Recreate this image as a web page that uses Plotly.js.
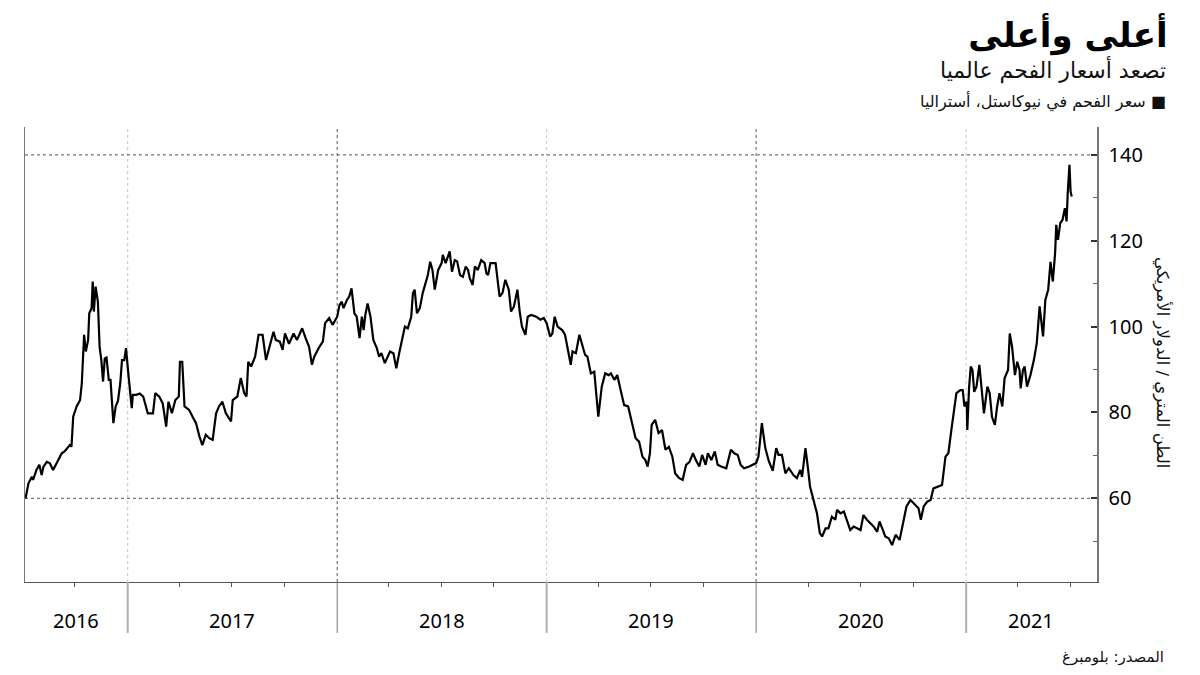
<!DOCTYPE html>
<html>
<head>
<meta charset="utf-8">
<script src="https://cdn.plot.ly/plotly-3.0.1.min.js"></script>
<style>
html,body{margin:0;padding:0;background:#fff;}
#chart{width:1200px;height:675px;}
</style>
</head>
<body>
<div id="chart"></div>
<script>
// ---- Data ----
const dates = [
"2016-07-07","2016-07-12","2016-07-18","2016-07-20","2016-07-26","2016-07-31","2016-08-04","2016-08-07","2016-08-13","2016-08-18",
"2016-08-24","2016-09-02","2016-09-08","2016-09-13","2016-09-22","2016-09-25","2016-09-28","2016-10-04","2016-10-10","2016-10-13",
"2016-10-17","2016-10-20","2016-10-24","2016-10-26","2016-10-30","2016-11-01","2016-11-03","2016-11-06","2016-11-10","2016-11-13",
"2016-11-16","2016-11-19","2016-11-22","2016-11-25","2016-11-29","2016-12-02","2016-12-07","2016-12-11","2016-12-15","2016-12-19",
"2016-12-22","2016-12-26","2016-12-29",
"2017-01-02","2017-01-08","2017-01-10","2017-01-16","2017-01-22","2017-01-28","2017-02-05","2017-02-14","2017-02-18","2017-02-25",
"2017-03-03","2017-03-09","2017-03-13","2017-03-19","2017-03-25","2017-03-31","2017-04-02","2017-04-06","2017-04-10","2017-04-18",
"2017-04-24","2017-04-30","2017-05-06","2017-05-11","2017-05-17","2017-05-23","2017-05-29","2017-06-04","2017-06-09","2017-06-15",
"2017-06-21","2017-06-30","2017-07-03","2017-07-11","2017-07-17","2017-07-23","2017-07-27","2017-07-30","2017-08-04","2017-08-08",
"2017-08-11","2017-08-17","2017-08-24","2017-08-30","2017-09-05","2017-09-12","2017-09-16","2017-09-23","2017-09-28","2017-10-02",
"2017-10-09","2017-10-17","2017-10-23","2017-11-01","2017-11-07","2017-11-13","2017-11-18","2017-11-22","2017-12-01","2017-12-07",
"2017-12-11","2017-12-18","2017-12-24",
"2018-01-01","2018-01-05","2018-01-09","2018-01-12","2018-01-18","2018-01-22","2018-01-26","2018-01-31","2018-02-04","2018-02-09",
"2018-02-13","2018-02-16","2018-02-19","2018-02-23","2018-02-28","2018-03-05","2018-03-11","2018-03-15","2018-03-19","2018-03-25",
"2018-04-03","2018-04-09","2018-04-14","2018-04-19","2018-04-29","2018-05-04","2018-05-10","2018-05-13","2018-05-16","2018-05-20",
"2018-05-25","2018-05-30","2018-06-05","2018-06-08","2018-06-12","2018-06-16","2018-06-20","2018-06-26","2018-07-02","2018-07-04",
"2018-07-09","2018-07-12","2018-07-16","2018-07-20","2018-07-25","2018-07-29","2018-08-03","2018-08-08","2018-08-13","2018-08-17",
"2018-08-20","2018-08-25","2018-08-29","2018-09-03","2018-09-09","2018-09-15","2018-09-18","2018-09-21","2018-09-25","2018-10-04",
"2018-10-11","2018-10-16","2018-10-21","2018-10-27","2018-10-31","2018-11-05","2018-11-11","2018-11-15","2018-11-19","2018-11-25",
"2018-11-29","2018-12-05","2018-12-14","2018-12-21","2018-12-27",
"2019-01-01","2019-01-07","2019-01-11","2019-01-15","2019-01-20","2019-01-28","2019-02-02","2019-02-06","2019-02-10","2019-02-12",
"2019-02-15","2019-02-21","2019-02-27","2019-03-05","2019-03-09","2019-03-13","2019-03-19","2019-03-25","2019-04-01","2019-04-07",
"2019-04-13","2019-04-19","2019-04-23","2019-04-29","2019-05-04","2019-05-10","2019-05-16","2019-05-23","2019-05-28","2019-06-01",
"2019-06-05","2019-06-11","2019-06-17","2019-06-22","2019-06-26","2019-06-30","2019-07-03","2019-07-09","2019-07-15","2019-07-21",
"2019-07-27","2019-08-02","2019-08-08","2019-08-13","2019-08-20","2019-08-26","2019-09-01","2019-09-07","2019-09-13","2019-09-18",
"2019-09-24","2019-09-29","2019-10-05","2019-10-09","2019-10-15","2019-10-21","2019-10-26","2019-11-01","2019-11-10","2019-11-18",
"2019-11-24","2019-11-30","2019-12-05","2019-12-11","2019-12-20",
"2020-01-01","2020-01-05","2020-01-11","2020-01-17","2020-01-23","2020-01-30","2020-02-05","2020-02-09","2020-02-15","2020-02-21",
"2020-02-27","2020-03-06","2020-03-12","2020-03-18","2020-03-21","2020-03-27","2020-03-31","2020-04-04","2020-04-10","2020-04-16",
"2020-04-21","2020-04-25","2020-05-01","2020-05-06","2020-05-12","2020-05-18","2020-05-21","2020-05-27","2020-06-02","2020-06-07",
"2020-06-13","2020-06-19","2020-06-25","2020-07-01","2020-07-06","2020-07-12","2020-07-18","2020-07-24","2020-07-30","2020-08-03",
"2020-08-09","2020-08-13","2020-08-19","2020-08-25","2020-08-31","2020-09-07","2020-09-13","2020-09-19","2020-09-26","2020-10-04",
"2020-10-10","2020-10-14","2020-10-19","2020-10-25","2020-10-31","2020-11-05","2020-11-14","2020-11-20","2020-11-26","2020-12-01",
"2020-12-07","2020-12-15","2020-12-22","2020-12-26","2020-12-29",
"2021-01-02","2021-01-03","2021-01-06","2021-01-09","2021-01-12","2021-01-15","2021-01-19","2021-01-24","2021-01-28","2021-02-01",
"2021-02-07","2021-02-11","2021-02-15","2021-02-20","2021-02-24","2021-02-28","2021-03-05","2021-03-09","2021-03-15","2021-03-18",
"2021-03-22","2021-03-27","2021-03-31","2021-04-04","2021-04-06","2021-04-10","2021-04-13","2021-04-17","2021-04-23","2021-04-29",
"2021-05-04","2021-05-09","2021-05-15","2021-05-19","2021-05-24","2021-05-28","2021-06-01","2021-06-05","2021-06-07","2021-06-10",
"2021-06-14","2021-06-18","2021-06-22","2021-06-25","2021-06-27","2021-06-30","2021-07-02","2021-07-04"
];
const prices = [
60.0,63.5,65.0,64.3,66.6,67.8,65.4,67.3,68.5,68.2,
66.6,69.0,70.5,70.9,72.4,72.0,79.0,81.4,82.9,86.8,
98.1,94.2,96.9,103.1,104.3,110.5,103.5,109.3,105.8,95.3,
92.2,87.2,92.6,92.8,87.6,87.6,77.5,81.4,82.7,86.8,
92.2,92.2,95.0,
89.1,81.0,84.1,84.1,84.4,83.7,79.8,79.8,84.5,83.7,
82.1,76.7,82.5,79.8,82.9,83.7,91.8,91.8,81.4,80.6,
79.0,77.5,74.4,72.4,74.8,74.0,73.6,79.8,81.4,82.5,
79.8,77.9,82.9,83.7,88.0,84.5,83.7,91.8,90.7,91.8,
93.0,98.1,98.1,92.2,95.3,98.8,96.9,96.5,94.6,98.4,
96.0,98.4,96.9,99.6,97.3,95.3,91.1,93.0,95.3,96.5,
100.8,102.0,100.4,
102.3,105.0,105.8,104.3,106.2,107.0,108.9,103.1,102.3,97.3,
102.3,99.2,102.7,105.4,102.3,96.9,95.0,93.0,93.8,91.5,
94.2,93.8,90.3,93.8,100.0,99.6,102.3,107.8,108.6,103.1,
104.3,107.8,110.5,112.0,115.1,113.2,108.6,113.2,114.8,116.7,
114.8,115.9,117.5,112.8,115.5,115.2,112.0,111.6,114.0,113.2,
111.3,109.7,114.0,113.2,115.5,114.8,112.4,112.0,114.8,114.8,
107.0,107.8,110.9,108.6,103.5,104.7,108.6,103.5,100.0,98.1,
102.3,102.7,102.3,101.6,102.0,
100.8,97.7,98.4,102.3,100.0,99.2,98.1,95.3,93.0,91.1,
94.2,93.8,98.1,95.3,93.4,93.0,89.1,89.5,79.0,86.0,
89.1,88.7,89.1,87.6,88.7,85.2,81.7,81.4,78.3,75.9,
74.0,73.2,69.7,68.9,67.4,70.5,77.1,78.3,75.2,75.9,
71.3,72.0,69.7,65.8,64.7,64.3,67.8,68.5,70.5,68.9,
67.4,70.1,67.8,70.5,68.9,70.9,67.8,67.4,67.0,71.3,
70.5,70.1,67.8,67.0,67.4,
68.2,69.7,77.5,71.7,68.7,66.4,71.7,70.1,70.1,65.8,
67.0,65.4,64.7,66.6,65.0,71.7,67.4,62.7,59.6,56.5,
51.9,51.1,53.0,53.0,55.7,55.0,57.3,56.5,56.9,55.0,
52.6,53.4,53.0,52.6,56.1,55.0,54.2,53.4,52.2,54.6,
52.6,51.1,50.7,49.1,51.5,50.3,54.2,58.1,59.6,58.4,
57.7,55.0,58.1,59.2,59.6,62.3,62.7,63.1,69.7,70.5,
76.7,84.5,85.2,85.2,81.4,
82.5,75.9,85.6,90.7,89.9,84.8,86.0,91.1,84.5,79.8,
86.0,84.5,79.0,77.1,81.4,84.5,81.4,88.0,89.9,98.4,
95.3,88.7,91.8,89.9,85.6,89.9,90.7,86.0,88.7,92.2,
96.1,104.7,97.7,106.2,108.6,115.1,110.5,117.1,123.7,120.2,
124.1,124.9,127.6,124.5,131.1,137.7,131.4,130.3
];
const yearStarts = ["2017-01-01","2018-01-01","2019-01-01","2020-01-01","2021-01-01"];
const yearLabels = ["2016","2017","2018","2019","2020","2021"];
const yearLabelDates = ["2016-10-03","2017-07-02","2018-07-02","2019-07-02","2020-07-02","2021-04-24"];
const gridValues = [60, 140];
const xRange = ["2016-07-06","2021-08-17"];
const yRange = [40.5, 146.5];

const titleText = "أعلى وأعلى";
const subtitleText = "تصعد أسعار الفحم عالميا";
const legendText = "سعر الفحم في نيوكاستل، أستراليا";
const yTitleText = "الطن المتري / الدولار الأمريكي";
const sourceText = "المصدر: بلومبرغ";

// ---- Figure ----
const arFont = "DejaVu Sans, Noto Sans, sans-serif";
const numFont = "Noto Sans, Open Sans, sans-serif";

const shapes = [];
yearStarts.forEach((d, i) => {
  const dark = (i % 2 === 1);
  shapes.push({type:"line", xref:"x", yref:"paper", x0:d, x1:d, y0:0, y1:1,
    line:{color: dark ? "#555" : "#c4c4c4", width:1, dash:"dot"}, layer:"below"});
  shapes.push({type:"line", xref:"x", yref:"paper", x0:d, x1:d, y0:0, y1:-0.112,
    line:{color: dark ? "#777" : "#b0b0b0", width: dark ? 1 : 2}});
});
gridValues.forEach(v => {
  shapes.push({type:"line", xref:"paper", yref:"y", x0:0, x1:1, y0:v, y1:v,
    line:{color:"#555", width:1, dash:"dot"}, layer:"below"});
});

const annotations = [];
yearLabels.forEach((t, i) => {
  annotations.push({text:t, x:yearLabelDates[i], xref:"x", y:-0.0857, yref:"paper",
    showarrow:false, xanchor:"center", yanchor:"middle",
    font:{family:numFont, size:20, color:"#000"}});
});
annotations.push({text:subtitleText, xref:"paper", yref:"paper", x:1.0663, y:1.1253,
  xanchor:"right", yanchor:"middle", showarrow:false, font:{family:arFont, size:22, color:"#111"}});
annotations.push({text:legendText + " ■", xref:"paper", yref:"paper", x:1.0663, y:1.055,
  xanchor:"right", yanchor:"middle", showarrow:false, font:{family:arFont, size:16, color:"#111"}});
annotations.push({text:yTitleText, xref:"paper", yref:"paper", x:1.0616, y:0.4835, textangle:90,
  xanchor:"center", yanchor:"middle", showarrow:false, font:{family:arFont, size:16.5, color:"#111"}});
annotations.push({text:sourceText, xref:"paper", yref:"paper", x:1.0644, y:-0.165,
  xanchor:"right", yanchor:"middle", showarrow:false, font:{family:arFont, size:15, color:"#111"}});

const trace = {
  x: dates, y: prices, type:"scatter", mode:"lines",
  line:{color:"#000", width:2.2}, hoverinfo:"skip", showlegend:false
};

const layout = {
  width:1200, height:675,
  margin:{l:25, r:103, t:127, b:93},
  paper_bgcolor:"#fff", plot_bgcolor:"#fff",
  title:{text:"<b>"+titleText+"</b>", xref:"container", yref:"container",
    x:0.973, xanchor:"right", y:0.948, yanchor:"middle",
    font:{family:arFont, size:34, color:"#000"}},
  xaxis:{type:"date", range:xRange, showgrid:false, zeroline:false,
    showline:true, linecolor:"#555", linewidth:1,
    ticks:"", showticklabels:false,
    minor:{tickmode:"linear", tick0:"2016-01-01", dtick:"M3", ticks:"outside", ticklen:4, tickcolor:"#555", tickwidth:1, showgrid:false}},
  yaxis:{range:yRange, side:"right", showgrid:false, zeroline:false,
    showline:true, linecolor:"#777", linewidth:1.5, mirror:true,
    tickmode:"linear", tick0:0, dtick:20, ticks:"inside", ticklen:6, tickwidth:2, tickcolor:"#333",
    ticklabelstandoff:6,
    tickfont:{family:numFont, size:20, color:"#000"},
    minor:{tickmode:"linear", tick0:0, dtick:10, ticks:"inside", ticklen:4, tickcolor:"#666", tickwidth:1, showgrid:false}},
  shapes:shapes,
  annotations:annotations
};

Plotly.newPlot("chart", [trace], layout, {displayModeBar:false, staticPlot:true});
</script>
</body>
</html>
